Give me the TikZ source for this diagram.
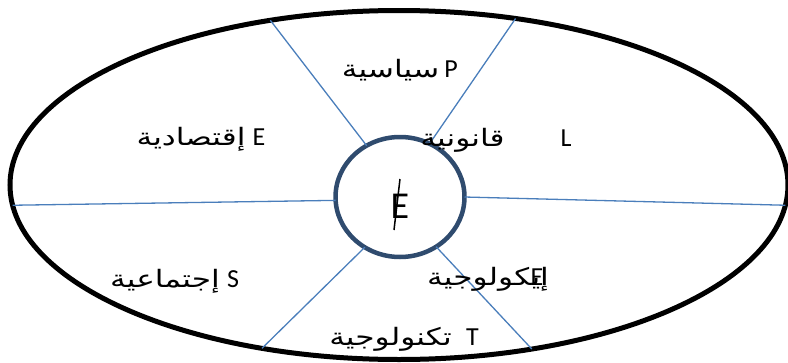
\documentclass[tikz,border=0pt]{standalone}
\usepackage{fontspec}
\setmainfont{Carlito}
\newfontfamily\arabicfont[Script=Arabic, FakeStretch=1.3]{DejaVu Sans}
\TeXXeTstate=1
\usetikzlibrary{shapes.geometric}
\definecolor{Rim}{HTML}{000000}
\definecolor{Core}{HTML}{2F4B6E}
\definecolor{Spoke}{HTML}{4A7EBB}
\tikzset{
 rim/.style={draw=Rim, line width=5pt, ellipse, inner sep=0pt, outer sep=0pt, minimum width=778pt, minimum height=349pt},
 core/.style={draw=Core, line width=4.5pt, ellipse, inner sep=0pt, outer sep=0pt, minimum width=129pt, minimum height=120pt},
 spoke/.style={draw=Spoke, line width=1.3pt},
 arword/.style={anchor=base, inner sep=0pt, font=\arabicfont\fontsize{24}{28}\selectfont},
 latin/.style={anchor=base, inner sep=0pt, font=\fontsize{26}{30}\selectfont}
}
\begin{document}
\begin{tikzpicture}[x=1pt,y=-1pt]
\useasboundingbox (0,0) rectangle (788,362);
\node[rim] (outer) at (399,185) {};
\node[core] (hub) at (400,197) {};
% spokes from the hub to the rim
\draw[spoke] (hub.123) -- (outer.128.5);
\draw[spoke] (hub.61) -- (outer.55.2);
\draw[spoke] (hub.183.5) -- (outer.183);
\draw[spoke] (hub.0) -- (outer.357.4);
\draw[spoke] (hub.235) -- (outer.230);
\draw[spoke] (hub.306) -- (outer.309);
% labels
\node[arword] (pol) at (390.5,77) {\beginR سياسية\endR};
\node[latin] (polL) at (451,77) {P};
\node[arword] (eco) at (191,145) {\beginR إقتصادية\endR};
\node[latin] (ecoL) at (259,145) {E};
\node[arword] (leg) at (462.5,146) {\beginR قانونية\endR};
\node[latin] (legL) at (566,146) {L};
\node[arword] (soc) at (165,287) {\beginR إجتماعية\endR};
\node[latin] (socL) at (233,287) {S};
\node[arword] (env) at (488,285) {\beginR إيكولوجية\endR};
\node[latin] (envL) at (537,285) {E};
\node[arword] (tec) at (390.5,345) {\beginR تكنولوجية\endR};
\node[latin] (tecL) at (472.5,345) {T};
\node[latin, font=\fontsize{38}{42}\selectfont] (mid) at (400,218) {E};
\draw[line width=1.5pt] (400,179) -- (394,230);
\end{tikzpicture}
\end{document}
